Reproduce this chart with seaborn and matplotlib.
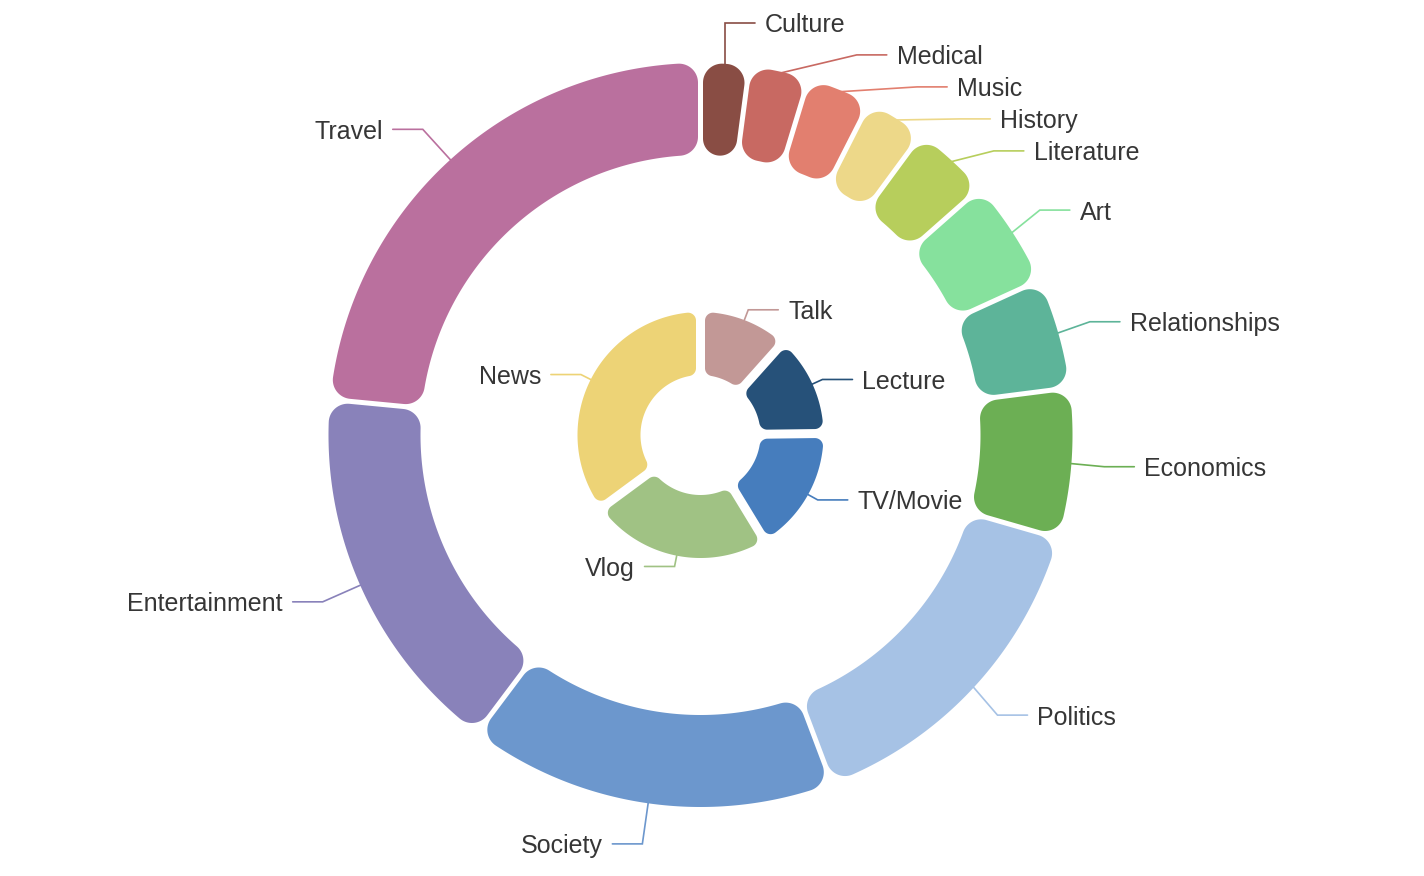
"""Nested donut chart: content formats (inner ring) and topics (outer ring)."""
import numpy as np
import matplotlib
matplotlib.use("Agg")
import matplotlib.pyplot as plt
from matplotlib.patches import Polygon
import seaborn as sns

# outer ring, clockwise from 12 o'clock
topic_labels = ["Culture", "Medical", "Music", "History", "Literature", "Art",
                "Relationships", "Economics", "Politics", "Society",
                "Entertainment", "Travel"]
topic_share = [2.1, 2.6, 2.8, 2.6, 3.4, 4.7, 4.8, 6.5, 14.8, 16.0, 16.3, 23.5]
topic_colors = ["#894D44", "#C86962", "#E27F6F", "#EDD889", "#B7CE5C", "#86E19D",
                "#5DB499", "#6CAF54", "#A6C2E5", "#6C97CD", "#8982BA", "#BA709E"]

# inner ring, clockwise from 12 o'clock
format_labels = ["Talk", "Lecture", "TV/Movie", "Vlog", "News"]
format_share = [11.6, 13.2, 16.5, 23.6, 35.1]
format_colors = ["#C29896", "#265179", "#467DBD", "#A0C284", "#EDD376"]

W, H = 1424, 876
CX, CY = 700.5, H - 435
TEXT_COLOR = "#363636"

sns.set_theme(style="white")
plt.rcParams["font.family"] = ["Liberation Sans", "DejaVu Sans"]


def rounded(w, rho, gap, n=20):
    """Outline of a pie wedge with rounded corners, pulled back from its neighbours."""
    c = np.asarray(w.center, float)
    R, r = w.r, w.r - w.width
    t1, t2 = np.radians(w.theta1), np.radians(w.theta2)
    s = np.sin((t2 - t1) / 2)
    ro = max(min(rho, (R * s - gap) / (1 + s), (R - r) / 2), 0.1)
    ri = max(min(rho, (r * s - gap) / (1 - s), (R - r) / 2), 0.1)

    def pol(rad, a):
        return c + rad * np.array([np.cos(a), np.sin(a)])

    def fillet(t, sign, rc, rr, rad, to_arc):
        phi = t + sign * np.arcsin((gap + rad) / rc)
        fc = pol(rc, phi)
        u = np.array([np.cos(t), np.sin(t)])
        nrm = sign * np.array([-np.sin(t), np.cos(t)])
        lam = np.sqrt(rc ** 2 - (gap + rad) ** 2)
        p_line = c + lam * u + gap * nrm
        p_arc = pol(rr, phi)
        a, b = (p_line, p_arc) if to_arc else (p_arc, p_line)
        a0 = np.arctan2(a[1] - fc[1], a[0] - fc[0])
        a1 = np.arctan2(b[1] - fc[1], b[0] - fc[0])
        d = (a1 - a0 + np.pi) % (2 * np.pi) - np.pi
        aa = a0 + d * np.linspace(0, 1, n)
        return fc + rad * np.column_stack([np.cos(aa), np.sin(aa)]), phi

    f1, po1 = fillet(t1, 1, R - ro, R, ro, True)
    f2, po2 = fillet(t2, -1, R - ro, R, ro, False)
    f3, pi2 = fillet(t2, -1, r + ri, r, ri, True)
    f4, pi1 = fillet(t1, 1, r + ri, r, ri, False)
    ao = np.linspace(po1, po2, max(2, int(np.degrees(po2 - po1) * 3)))
    ai = np.linspace(pi2, pi1, max(2, int(np.degrees(pi2 - pi1) * 3)))
    arc_o = c + R * np.column_stack([np.cos(ao), np.sin(ao)])
    arc_i = c + r * np.column_stack([np.cos(ai), np.sin(ai)])
    return np.vstack([f1, arc_o, f2, f3, arc_i, f4])


def draw_ring(values, colors, radius, width, rho, gap):
    wedges, _ = ax.pie(values, radius=radius, center=(CX, CY), startangle=90,
                       counterclock=False, colors=colors,
                       wedgeprops=dict(width=width))
    for w in wedges:
        ax.add_patch(Polygon(rounded(w, rho, gap), closed=True,
                             facecolor=w.get_facecolor(), edgecolor="none",
                             zorder=3))
        w.set_visible(False)
    return wedges


def draw_labels(wedges, names, colors, r_start, r_bend, len2=30, pad=10,
                spacing=32, squeeze=8):
    items = []
    for w, name, col in zip(wedges, names, colors):
        tm = np.radians((w.theta1 + w.theta2) / 2)
        side = 1 if np.cos(tm) >= 0 else -1
        items.append([side, CY + r_bend * np.sin(tm), tm, name, col])
    # push crowded labels downwards; a crowded side gets its elbows on an ellipse
    crowded = set()
    for side in (1, -1):
        grp = sorted([it for it in items if it[0] == side], key=lambda it: -it[1])
        for prev, cur in zip(grp, grp[1:]):
            if prev[1] - cur[1] < spacing:
                cur[1] = prev[1] - spacing
                crowded.add(side)
    for side, by, tm, name, col in items:
        sx, sy = CX + r_start * np.cos(tm), CY + r_start * np.sin(tm)
        dy = by - CY
        if side in crowded:
            rx = (r_bend - squeeze) * np.sqrt(max(1 - dy ** 2 / (r_bend - 1) ** 2, 0))
            rx = max(rx, side * (sx - CX))
        else:
            rx = np.sqrt(max(r_bend ** 2 - dy ** 2, 0))
        bx = CX + side * rx
        ex = bx + side * len2
        ax.plot([sx, bx, ex], [sy, by, by], color=col, lw=1.2, zorder=2,
                solid_joinstyle="miter")
        ax.text(ex + side * pad, by, name, ha="left" if side > 0 else "right",
                va="center_baseline", fontsize=18, color=TEXT_COLOR)


fig = plt.figure(figsize=(W / 100, H / 100), dpi=100)
ax = fig.add_axes([0, 0, 1, 1])

outer = draw_ring(topic_share, topic_colors, 372, 92, rho=19, gap=2.5)
inner = draw_ring(format_share, format_colors, 123, 63, rho=8, gap=4.5)

draw_labels(outer, topic_labels, topic_colors, r_start=370, r_bend=413)
draw_labels(inner, format_labels, format_colors, r_start=121, r_bend=134)

ax.set_xlim(0, W)
ax.set_ylim(0, H)
ax.set_axis_off()

fig.savefig("out.png", dpi=100, facecolor="white")
